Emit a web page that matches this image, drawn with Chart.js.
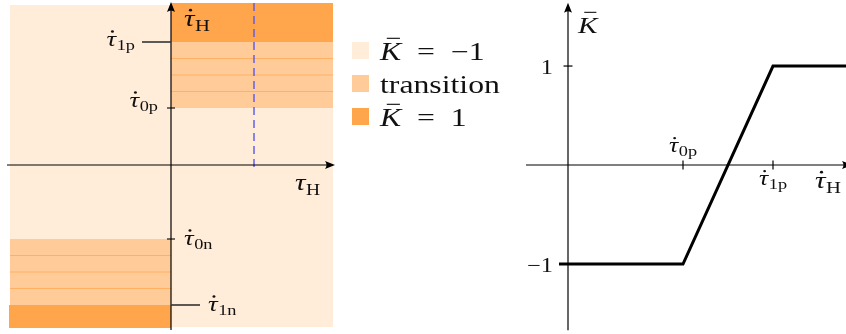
<!DOCTYPE html>
<html>
<head>
<meta charset="utf-8">
<title>Switching regions and saturation characteristic</title>
<script src="https://cdn.jsdelivr.net/npm/chart.js@4/dist/chart.umd.min.js"></script>
<style>
  html, body { margin: 0; padding: 0; background: #ffffff; }
  body { position: relative; width: 846px; height: 334px; overflow: hidden; }
  #left { position: absolute; left: 0; top: 0; }
  #right { position: absolute; left: 500px; top: 0; }
</style>
</head>
<body>
<canvas id="left" width="510" height="334"></canvas>
<canvas id="right" width="346" height="334"></canvas>
<script>
// ---------- data: region plot (τH horizontal, τ̇H vertical) ----------
const thresholdNames  = ['1p', '0p', '0n', '1n'];
const thresholdValues = [1.23, 0.57, -0.74, -1.40];
const regionNames  = ['K̄ = −1', 'transition', 'K̄ = 1'];
const regionColors = ['#ffecd9', '#ffcc99', '#ffa64d'];
const plotSpanX = [-1.61, 1.62];
const plotSpanY = [-1.63, 1.62];
const upperBandLines = [1.065, 0.90, 0.735];
const lowerBandLines = [-0.905, -1.07, -1.235];
const markerTau = 0.83;          // dashed reference line position
const markerTop = 1.62;
const markerBottom = -0.07;
const tauAxisSpan = [-1.64, 1.64];
const tauDotAxisSpan = [-1.65, 1.63];

// ---------- data: saturation characteristic K̄(τ̇H) ----------
const kTau    = [-0.09, 1.15, 2.05, 2.80];
const kValues = [-1, -1, 1, 1];
const kTickValues = [1, -1];
const kTickLabels = ['1', '−1'];
const kTauTicks = [1.15, 2.05];
const kTauTickNames = ['0p', '1p'];
const kAxisSpanX = [-0.42, 2.84];
const kAxisSpanY = [-1.67, 1.64];

// ---------- drawing helpers ----------
const SERIF = '"Liberation Serif", "DejaVu Serif", serif';
const SX = 1.22;   // default horizontal stretch applied to glyphs

function runFont(r, size) {
  const s = r.sub ? Math.round(size * (r.subScale || 0.68)) : size;
  return (r.it ? 'italic ' : '') + s + 'px ' + SERIF;
}
function drawRuns(ctx, runs, x, y, size, align, sx) {
  const k = sx || SX;
  ctx.save();
  ctx.textAlign = 'left';
  ctx.textBaseline = 'alphabetic';
  const widths = runs.map(r => { ctx.font = runFont(r, size); return ctx.measureText(r.t).width + (r.pad || 0); });
  const total = widths.reduce((a, b) => a + b, 0) * k;
  const x0 = align === 'right' ? x - total : align === 'center' ? x - total / 2 : x;
  ctx.translate(x0, y);
  ctx.scale(k, 1);
  ctx.fillStyle = '#111';
  let cx = 0;
  runs.forEach((r, i) => {
    ctx.font = runFont(r, size);
    const w = ctx.measureText(r.t).width;
    const dy = r.sub ? size * 0.2 : 0;
    ctx.fillText(r.t, cx, dy);
    if (r.dot) {
      ctx.beginPath();
      ctx.arc(cx + w * 0.62, -size * 0.66, size * 0.055, 0, Math.PI * 2);
      ctx.fill();
    }
    if (r.bar) {
      ctx.fillRect(cx + w * 0.32, -size * 0.87, w * 0.62, Math.max(1, size * 0.045));
    }
    cx += widths[i];
  });
  ctx.restore();
  return total;
}
const tauDot = (sub, subScale) => [{ t: 'τ', it: true, dot: true, pad: 0.5 }, { t: sub, sub: true, subScale }];
const tauPlain = sub => [{ t: 'τ', it: true, pad: 0.5 }, { t: sub, sub: true }];
const kBar = rest => [{ t: 'K', it: true, bar: true }].concat(rest ? [{ t: rest }] : []);

function strokeLine(ctx, x1, y1, x2, y2) {
  ctx.beginPath(); ctx.moveTo(x1, y1); ctx.lineTo(x2, y2); ctx.stroke();
}
function arrowHead(ctx, tx, ty, dir) {
  // filled arrow tip pointing along dir ('right' or 'up')
  const L = 10, W = 4;
  ctx.beginPath();
  if (dir === 'right') {
    ctx.moveTo(tx, ty); ctx.lineTo(tx - L, ty - W); ctx.quadraticCurveTo(tx - L + 3, ty, tx - L, ty + W);
  } else {
    ctx.moveTo(tx, ty); ctx.lineTo(tx - W, ty + L); ctx.quadraticCurveTo(tx, ty + L - 3, tx + W, ty + L);
  }
  ctx.closePath();
  ctx.fill();
}

// ---------- region plot ----------
function band(x0, x1, top, bottom, color, order) {
  return {
    data: [{ x: x0, y: top }, { x: x1, y: top }],
    fill: { value: bottom },
    backgroundColor: color,
    borderColor: 'transparent',
    borderWidth: 0,
    pointRadius: 0,
    order
  };
}
function hline(x0, x1, yv, color) {
  return {
    data: [{ x: x0, y: yv }, { x: x1, y: yv }],
    fill: false, borderColor: color, borderWidth: 1, pointRadius: 0, order: 2
  };
}

const [t1p, t0p, t0n, t1n] = thresholdValues;
const leftDatasets = [
  band(plotSpanX[0], plotSpanX[1], 1.60, plotSpanY[0] + 0.01, regionColors[0], 10),
  band(0, plotSpanX[1], plotSpanY[1], t1p, regionColors[2], 5),
  band(0, plotSpanX[1], t1p, t0p, regionColors[1], 5),
  band(plotSpanX[0], 0, t0n, t1n, regionColors[1], 5),
  band(plotSpanX[0] - 0.01, 0, t1n, plotSpanY[0], regionColors[2], 5),
  ...upperBandLines.map(v => hline(0, plotSpanX[1], v, '#ffb062')),
  ...lowerBandLines.map(v => hline(plotSpanX[0], 0, v, '#ffb062')),
  {
    data: [{ x: markerTau, y: markerTop }, { x: markerTau, y: markerBottom }],
    fill: false, borderColor: '#5858ee', borderWidth: 1.4, borderDash: [8, 5],
    pointRadius: 0, order: 1
  }
];

// tick style per threshold: side of label, tick reach, label offsets
const thresholdStyle = {
  '1p': { side: 'left',  reach: 29, dx: -36, dy: 4 },
  '0p': { side: 'left',  reach: 4,  dx: -13, dy: -1 },
  '0n': { side: 'right', reach: 4,  dx: 13,  dy: 6 },
  '1n': { side: 'right', reach: 29, dx: 37,  dy: 6 }
};

const leftDecor = {
  id: 'leftDecor',
  afterDatasetsDraw(chart) {
    const { ctx, scales: { x, y } } = chart;
    const ox = x.getPixelForValue(0), oy = y.getPixelForValue(0);
    ctx.save();
    ctx.strokeStyle = '#000'; ctx.fillStyle = '#000'; ctx.lineWidth = 1.2;
    // axes with arrow tips
    const xl = x.getPixelForValue(tauAxisSpan[0]), xr = x.getPixelForValue(tauAxisSpan[1]);
    strokeLine(ctx, xl, oy, xr - 4, oy);
    arrowHead(ctx, xr, oy, 'right');
    const yb = y.getPixelForValue(tauDotAxisSpan[0]), yt = y.getPixelForValue(tauDotAxisSpan[1]);
    strokeLine(ctx, ox, yb, ox, yt + 4);
    arrowHead(ctx, ox, yt, 'up');

    // threshold ticks and labels
    thresholdNames.forEach((name, i) => {
      const st = thresholdStyle[name];
      const py = y.getPixelForValue(thresholdValues[i]);
      if (st.reach > 10) {
        ctx.strokeStyle = '#333'; ctx.lineWidth = 1.6;
        strokeLine(ctx, ox, py, st.side === 'left' ? ox - st.reach : ox + st.reach, py);
      } else {
        ctx.strokeStyle = '#000'; ctx.lineWidth = 1.1;
        strokeLine(ctx, ox - st.reach, py, ox + st.reach, py);
      }
      drawRuns(ctx, tauDot(name, 0.7), ox + st.dx, py + st.dy, 22, st.side === 'left' ? 'right' : 'left');
    });

    // axis names
    drawRuns(ctx, tauDot('H', 0.7), ox + 13, yt + 24, 24, 'left');
    drawRuns(ctx, tauPlain('H'), xr - 40, oy + 25, 24, 'left');

    // legend
    const lx = 352, ly = [42, 75, 108], box = 17;
    regionNames.forEach((name, i) => {
      ctx.fillStyle = regionColors[i];
      ctx.fillRect(lx, ly[i], box, box);
      let runs;
      if (name.startsWith('K̄')) runs = kBar(name.slice(2).replace(/ /g, '  '));
      else runs = [{ t: name }];
      drawRuns(ctx, runs, lx + 28, ly[i] + box + 0.5, 25, 'left', 1.27);
    });
    ctx.restore();
  }
};

new Chart(document.getElementById('left'), {
  type: 'line',
  data: { datasets: leftDatasets },
  options: {
    responsive: false, animation: false, devicePixelRatio: 1,
    layout: { padding: 0 },
    plugins: { legend: { display: false }, tooltip: { enabled: false } },
    scales: {
      x: { type: 'linear', display: false, min: -1.71, max: 3.39 },
      y: { type: 'linear', display: false, min: -1.69, max: 1.65 }
    }
  },
  plugins: [leftDecor]
});

// ---------- saturation characteristic ----------
const rightDecor = {
  id: 'rightDecor',
  beforeDatasetsDraw(chart) {
    const { ctx, scales: { x, y } } = chart;
    const ox = x.getPixelForValue(0), oy = y.getPixelForValue(0);
    ctx.save();
    ctx.strokeStyle = '#000'; ctx.fillStyle = '#000'; ctx.lineWidth = 1.2;
    const xl = x.getPixelForValue(kAxisSpanX[0]), xr = x.getPixelForValue(kAxisSpanX[1]);
    strokeLine(ctx, xl, oy, xr - 4, oy);
    arrowHead(ctx, xr, oy, 'right');
    const yb = y.getPixelForValue(kAxisSpanY[0]), yt = y.getPixelForValue(kAxisSpanY[1]);
    strokeLine(ctx, ox, yb, ox, yt + 4);
    arrowHead(ctx, ox, yt, 'up');
    kTickValues.forEach(v => {
      const py = y.getPixelForValue(v);
      strokeLine(ctx, ox - 4.5, py, ox + 4.5, py);
    });
    kTauTicks.forEach(v => {
      const px = x.getPixelForValue(v);
      strokeLine(ctx, px, oy - 4.5, px, oy + 4.5);
    });
    ctx.restore();
  },
  afterDatasetsDraw(chart) {
    const { ctx, scales: { x, y } } = chart;
    const ox = x.getPixelForValue(0), oy = y.getPixelForValue(0);
    kTickValues.forEach((v, i) => {
      drawRuns(ctx, [{ t: kTickLabels[i] }], ox - 15, y.getPixelForValue(v) + 7.5, 20, 'right');
    });
    const p0 = x.getPixelForValue(kTauTicks[0]);
    drawRuns(ctx, tauDot(kTauTickNames[0], 0.7), p0, oy - 13, 21, 'center');
    const p1 = x.getPixelForValue(kTauTicks[1]);
    drawRuns(ctx, tauDot(kTauTickNames[1], 0.7), p1, oy + 20, 21, 'center');
    drawRuns(ctx, tauDot('H', 0.7), x.getPixelForValue(kAxisSpanX[1]) - 37, oy + 23, 24, 'left');
    drawRuns(ctx, kBar(), ox + 10, y.getPixelForValue(kAxisSpanY[1]) + 30, 24, 'left');
  }
};

new Chart(document.getElementById('right'), {
  type: 'line',
  data: {
    datasets: [{
      label: 'K̄',
      data: kTau.map((t, i) => ({ x: t, y: kValues[i] })),
      borderColor: '#000', borderWidth: 3, pointRadius: 0, fill: false, tension: 0,
      borderJoinStyle: 'miter'
    }]
  },
  options: {
    responsive: false, animation: false, devicePixelRatio: 1,
    layout: { padding: 0 },
    plugins: { legend: { display: false }, tooltip: { enabled: false } },
    scales: {
      x: { type: 'linear', display: false, min: -0.68, max: 2.78 },
      y: { type: 'linear', display: false, min: -1.707, max: 1.667 }
    }
  },
  plugins: [rightDecor]
});
</script>
</body>
</html>
